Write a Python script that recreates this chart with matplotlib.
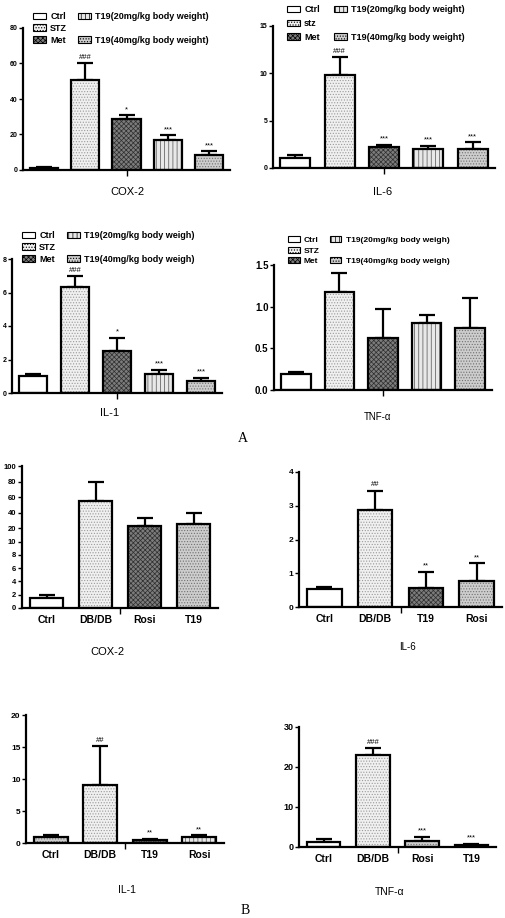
import numpy as np
import matplotlib.pyplot as plt
from matplotlib.patches import Patch

plt.rcParams["font.family"] = ["Liberation Sans", "DejaVu Sans"]
plt.rcParams["hatch.linewidth"] = 0.5

# ---- data (A: STZ model, B: db/db mice) ----
groups_a = ["Ctrl", "STZ", "Met", "T19(20mg/kg body weight)", "T19(40mg/kg body weight)"]
cox2_a = [1.0, 50.5, 29.0, 17.0, 8.5]
cox2_a_err = [0.5, 9.5, 2.0, 2.5, 2.0]
cox2_a_sig = ["", "###", "*", "***", "***"]

il6_a = [1.1, 9.8, 2.2, 2.0, 2.05]
il6_a_err = [0.3, 1.9, 0.25, 0.35, 0.65]
il6_a_sig = ["", "###", "***", "***", "***"]

il1_a = [1.0, 6.35, 2.5, 1.15, 0.7]
il1_a_err = [0.15, 0.65, 0.8, 0.25, 0.2]
il1_a_sig = ["", "###", "*", "***", "***"]

tnf_a = [0.19, 1.18, 0.62, 0.8, 0.75]
tnf_a_err = [0.03, 0.22, 0.35, 0.1, 0.35]

cox2_b_groups = ["Ctrl", "DB/DB", "Rosi", "T19"]
cox2_b = [1.5, 55.0, 23.0, 25.0]
cox2_b_err = [0.4, 25.0, 10.0, 15.0]

il6_b_groups = ["Ctrl", "DB/DB", "T19", "Rosi"]
il6_b = [0.52, 2.87, 0.57, 0.78]
il6_b_err = [0.08, 0.58, 0.48, 0.52]
il6_b_sig = ["", "##", "**", "**"]

il1_b_groups = ["Ctrl", "DB/DB", "T19", "Rosi"]
il1_b = [1.0, 9.0, 0.45, 1.0]
il1_b_err = [0.3, 6.2, 0.2, 0.25]
il1_b_sig = ["", "##", "**", "**"]

tnf_b_groups = ["Ctrl", "DB/DB", "Rosi", "T19"]
tnf_b = [1.3, 23.0, 1.5, 0.5]
tnf_b_err = [0.8, 1.7, 1.1, 0.3]
tnf_b_sig = ["", "###", "***", "***"]

# fill styles: facecolor, hatch, hatch colour
STY = {
    "white": ("white", None, "k"),
    "light": ("#f0f0f0", "......", "#9a9a9a"),
    "dark": ("#7c7c7c", "xxxxxxx", "#2e2e2e"),
    "vline": ("#e8e8e8", "||||", "#505050"),
    "mid": ("#cdcdcd", "......", "#707070"),
}

W, H = 505, 918
fig = plt.figure(figsize=(W / 100, H / 100), dpi=100)


def box(x0, y0, x1, y1):
    return fig.add_axes([x0 / W, 1 - y1 / H, (x1 - x0) / W, (y1 - y0) / H])


def panel(ax, vals, errs, styles, sig=None, ytick_fs=5, labels=None, lw=1.6):
    n = len(vals)
    x = np.arange(n)
    for i in range(n):
        fc, ht, hc = STY[styles[i]]
        ax.bar(x[i], vals[i], 0.68, color=fc, edgecolor=hc, hatch=ht, linewidth=0, zorder=2)
    ax.bar(x, vals, 0.68, fill=False, edgecolor="k", linewidth=lw, zorder=3)
    ax.errorbar(x, vals, yerr=[np.zeros(n), errs], fmt="none", ecolor="k",
                elinewidth=lw, capsize=5.5, capthick=lw, zorder=1)
    if sig:
        for i in range(n):
            if sig[i]:
                ax.annotate(sig[i], (x[i], vals[i] + errs[i]), xytext=(0, 1.5),
                            textcoords="offset points", ha="center", va="bottom",
                            fontsize=5.5)
    ax.set_xlim(-0.5, n - 0.5)
    for s in ["top", "right"]:
        ax.spines[s].set_visible(False)
    for s in ["left", "bottom"]:
        ax.spines[s].set_linewidth(lw)
    ax.tick_params(axis="y", length=3, width=1, labelsize=ytick_fs, pad=1)
    for t in ax.get_yticklabels():
        t.set_fontweight("bold")
    ax.set_xticks([(n - 1) / 2], minor=True)
    ax.tick_params(axis="x", which="minor", length=4, width=1)
    if labels:
        ax.set_xticks(x)
        ax.set_xticklabels(labels, fontsize=7.5, fontweight="bold")
        ax.tick_params(axis="x", which="major", length=0, pad=5)
    else:
        ax.set_xticks([])


def legend_a(ax, names, px, py, fs=6.5, colsp=1.2, lsp=0.32):
    blank = Patch(facecolor="none", edgecolor="none")
    st = ["white", "light", "dark", "vline", "mid"]
    h = [Patch(facecolor=STY[s][0], hatch=STY[s][1], edgecolor="k", linewidth=0.8) for s in st]
    handles = [h[0], h[1], h[2], h[3], blank, h[4]]
    labs = [names[0], names[1], names[2], names[3], "", names[4]]
    ax.legend(handles, labs, ncol=2, loc="upper left", bbox_to_anchor=(px / W, 1 - py / H),
              bbox_transform=fig.transFigure, frameon=False, borderpad=0, borderaxespad=0,
              handlelength=1.4, handleheight=0.75, handletextpad=0.5, labelspacing=lsp,
              columnspacing=colsp, prop={"size": fs, "weight": "bold"})


A5 = ["white", "light", "dark", "vline", "mid"]

# ---- A ----
ax1 = box(23, 28, 230, 170)
panel(ax1, cox2_a, cox2_a_err, A5, cox2_a_sig)
ax1.set_ylim(0, 80)
ax1.set_yticks([0, 20, 40, 60, 80])
legend_a(ax1, groups_a, 33, 12)
fig.text(127 / W, 1 - 192 / H, "COX-2", ha="center", va="center", fontsize=8)

ax2 = box(273, 26, 495, 168)
panel(ax2, il6_a, il6_a_err, A5, il6_a_sig)
ax2.set_ylim(0, 15)
ax2.set_yticks([0, 5, 10, 15])
legend_a(ax2, ["Ctrl", "stz", "Met", groups_a[3], groups_a[4]], 287, 5, colsp=1.6, lsp=0.55)
fig.text(383 / W, 1 - 192 / H, "IL-6", ha="center", va="center", fontsize=8)

ax3 = box(12, 259, 222, 393)
panel(ax3, il1_a, il1_a_err, A5, il1_a_sig)
ax3.set_ylim(0, 8)
ax3.set_yticks([0, 2, 4, 6, 8])
legend_a(ax3, ["Ctrl", "STZ", "Met", "T19(20mg/kg body weigh)", "T19(40mg/kg body weigh)"], 22, 231)
fig.text(110 / W, 1 - 413 / H, "IL-1", ha="center", va="center", fontsize=8)

ax4 = box(274, 265, 492, 390)
panel(ax4, tnf_a, tnf_a_err, A5, None, ytick_fs=7)
ax4.set_ylim(0, 1.5)
ax4.set_yticks([0, 0.5, 1.0, 1.5])
ax4.set_yticklabels(["0.0", "0.5", "1.0", "1.5"], fontweight="bold")
legend_a(ax4, ["Ctrl", "STZ", "Met", "T19(20mg/kg body weigh)", "T19(40mg/kg body weigh)"],
         288, 236, fs=6, colsp=1.2)
fig.text(378 / W, 1 - 417 / H, "TNF-α", ha="center", va="center", fontsize=7)

fig.text(243 / W, 1 - 438 / H, "A", ha="center", va="center", fontsize=10,
         family=["Liberation Serif", "DejaVu Serif"])

# ---- B ----
def fwd(v):
    v = np.asarray(v, float)
    return np.where(v <= 10, v, 12 + (v - 20) * 0.117)


def inv(u):
    u = np.asarray(u, float)
    return np.where(u <= 10, u, np.where(u < 10.83, 10, 20 + (u - 12) / 0.117))


ax5 = box(22, 466, 218, 608)
ax5.set_yscale("function", functions=(fwd, inv))
panel(ax5, cox2_b, cox2_b_err, ["white", "light", "dark", "mid"], None, ytick_fs=5.5,
      labels=cox2_b_groups)
ax5.set_ylim(0, 100)
ax5.set_yticks([0, 2, 4, 6, 8, 10, 20, 40, 60, 80, 100])
ax5.set_yticklabels(["0", "2", "4", "6", "8", "10", "20", "40", "60", "80", "100"], fontweight="bold")
ax5.yaxis.set_minor_locator(plt.NullLocator())
fig.text(107 / W, 1 - 652 / H, "COX-2", ha="center", va="center", fontsize=8)

ax6 = box(299, 472, 502, 607)
panel(ax6, il6_b, il6_b_err, ["white", "light", "dark", "mid"], il6_b_sig, ytick_fs=6,
      labels=il6_b_groups)
ax6.set_ylim(0, 4)
ax6.set_yticks([0, 1, 2, 3, 4])
fig.text(408 / W, 1 - 647 / H, "IL-6", ha="center", va="center", fontsize=7)

ax7 = box(26, 715, 224, 843)
panel(ax7, il1_b, il1_b_err, ["mid", "light", "dark", "vline"], il1_b_sig, ytick_fs=6,
      labels=il1_b_groups)
ax7.set_ylim(0, 20)
ax7.set_yticks([0, 5, 10, 15, 20])
fig.text(127 / W, 1 - 890 / H, "IL-1", ha="center", va="center", fontsize=7.5)

ax8 = box(299, 727, 496, 847)
panel(ax8, tnf_b, tnf_b_err, ["white", "light", "mid", "dark"], tnf_b_sig, ytick_fs=6.5,
      labels=tnf_b_groups)
ax8.set_ylim(0, 30)
ax8.set_yticks([0, 10, 20, 30])
fig.text(390 / W, 1 - 892 / H, "TNF-α", ha="center", va="center", fontsize=7.5)

fig.text(245 / W, 1 - 910 / H, "B", ha="center", va="center", fontsize=10,
         family=["Liberation Serif", "DejaVu Serif"])

fig.savefig("out.png", dpi=100)
